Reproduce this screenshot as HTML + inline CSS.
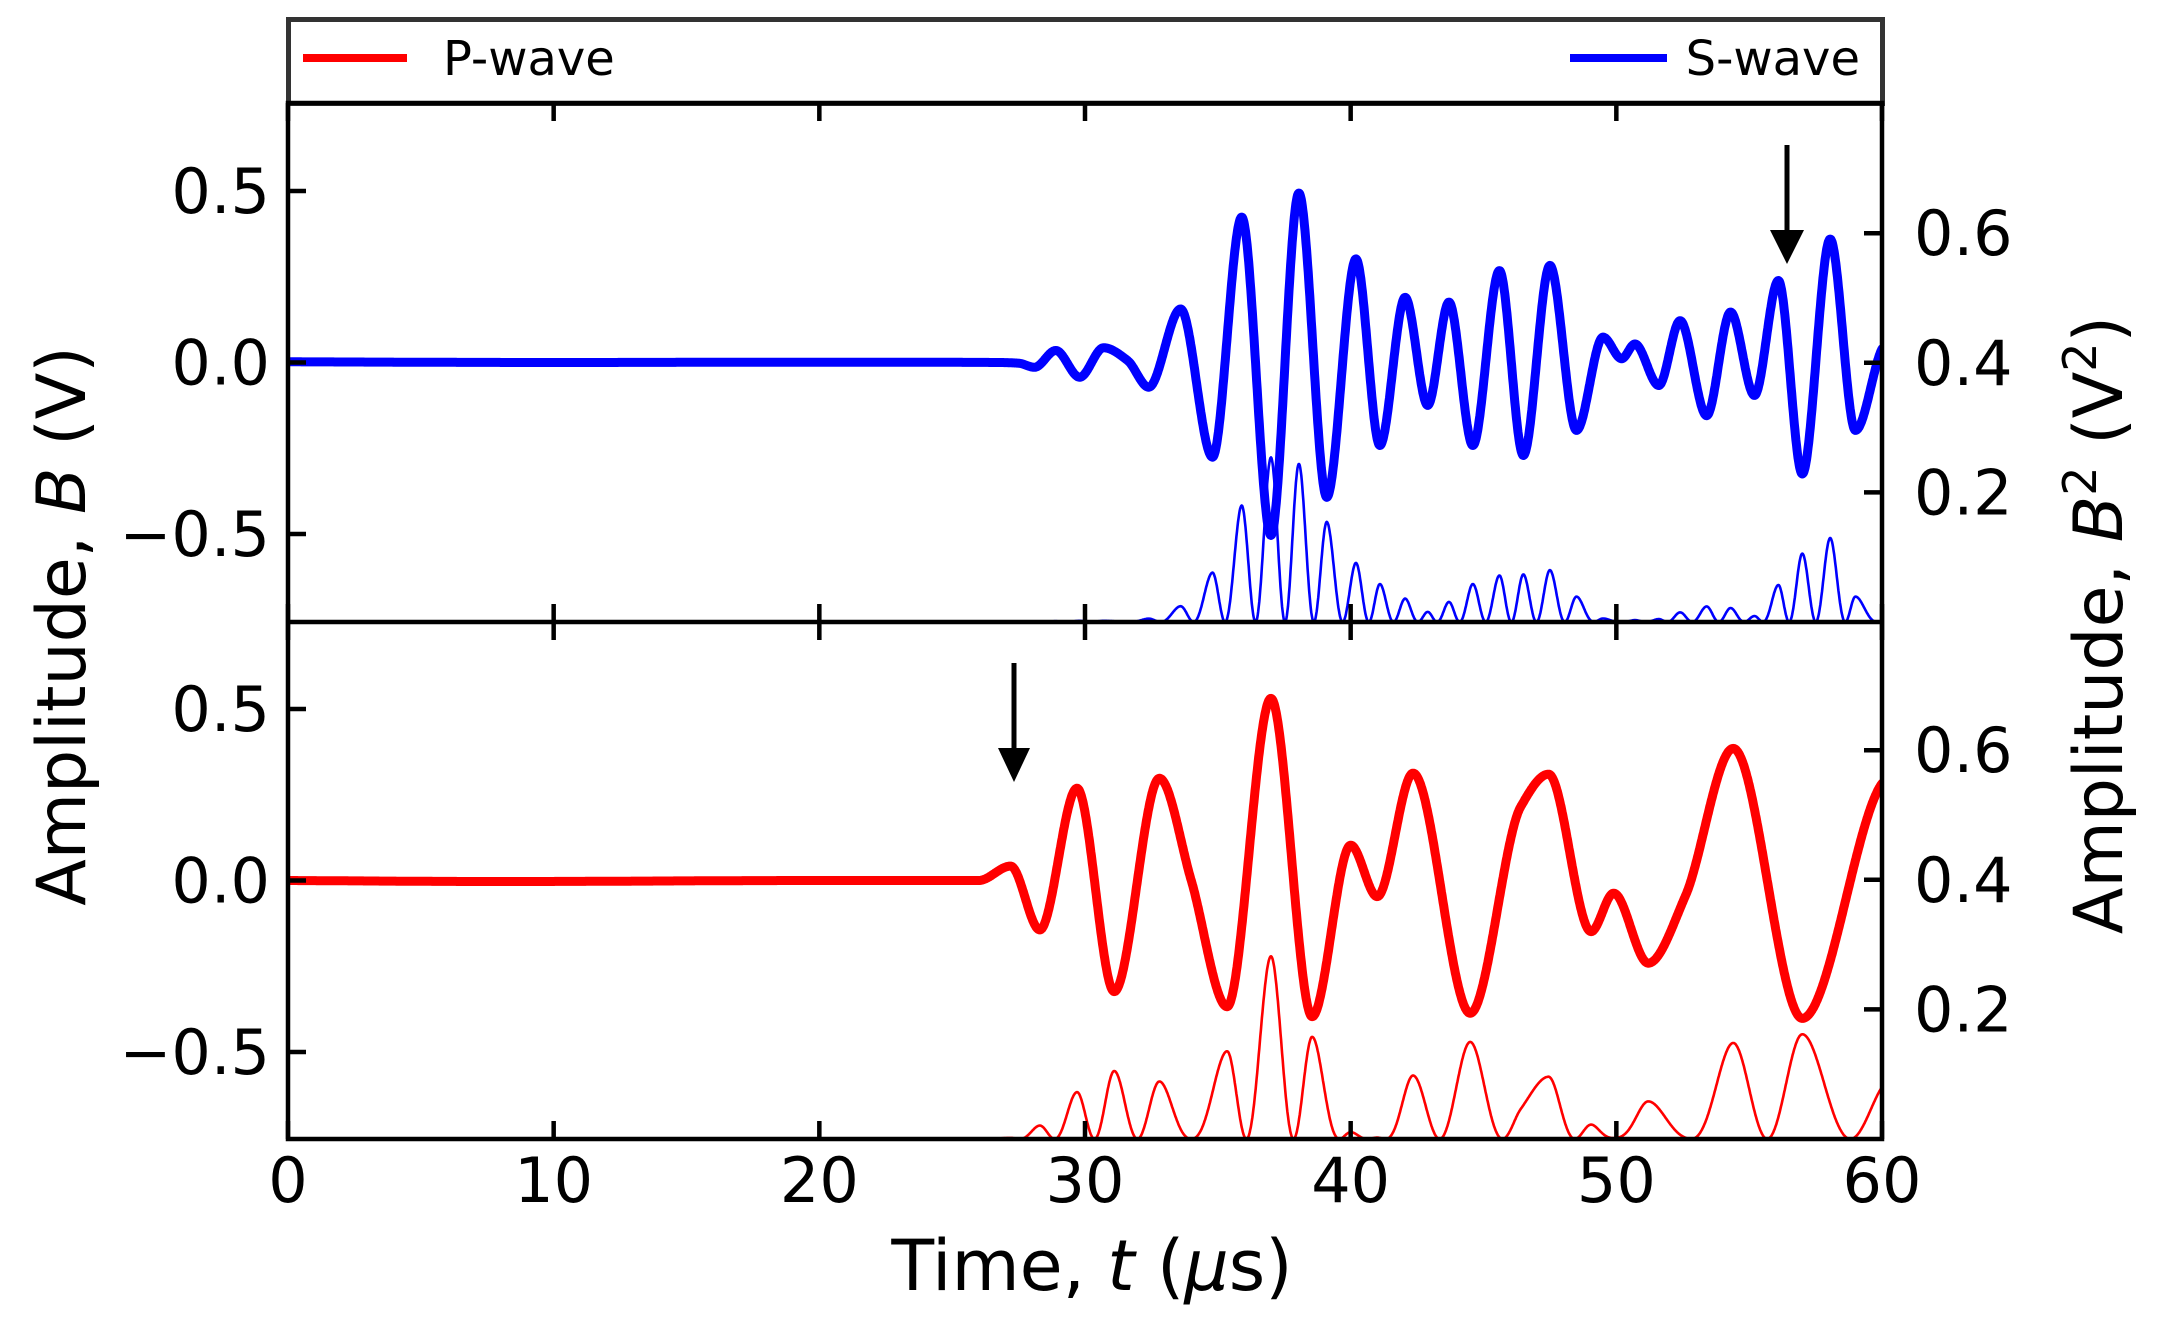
<!DOCTYPE html>
<html><head><meta charset="utf-8"><style>
html,body{margin:0;padding:0;background:#fff;}
svg{display:block;font-family:"DejaVu Sans","Liberation Sans",sans-serif;}
</style></head><body>
<svg id="s" width="2164" height="1328" viewBox="0 0 2164 1328" xmlns="http://www.w3.org/2000/svg">
<defs>
<clipPath id="c1"><rect x="288" y="103" width="1594" height="519"/></clipPath>
<clipPath id="c2"><rect x="288" y="622" width="1594" height="517"/></clipPath>
</defs>
<rect x="0" y="0" width="2164" height="1328" fill="#fff"/>
<!-- legend -->
<rect x="288.5" y="19.5" width="1594" height="84" fill="#fff" stroke="#333" stroke-width="5"/>
<line x1="303" y1="58" x2="407" y2="58" stroke="#f00" stroke-width="8"/>
<text x="443" y="75" font-size="48">P-wave</text>
<line x1="1570" y1="58" x2="1667" y2="58" stroke="#00f" stroke-width="8"/>
<text x="1860" y="75" font-size="48" text-anchor="end">S-wave</text>
<g id="curves"></g>
<g id="axes" stroke="#000" stroke-width="4.5" fill="none"></g>
<g id="lbl" font-size="62" fill="#000"></g>
<!-- arrows -->
<line x1="1787" y1="145" x2="1787" y2="235" stroke="#000" stroke-width="5"/>
<polygon points="1770,230 1804,230 1787,264" fill="#000"/>
<line x1="1014" y1="663" x2="1014" y2="752" stroke="#000" stroke-width="5"/>
<polygon points="998,748 1030,748 1014,782" fill="#000"/>
<text x="1092" y="1290" font-size="70" text-anchor="middle">Time, <tspan font-style="italic">t</tspan> (<tspan font-style="italic">μ</tspan>s)</text>
<text transform="translate(85,626) rotate(-90)" font-size="68" text-anchor="middle">Amplitude, <tspan font-style="italic">B</tspan> (V)</text>
<text transform="translate(2122,625) rotate(-90)" font-size="68" text-anchor="middle">Amplitude, <tspan font-style="italic">B</tspan><tspan font-size="46" dy="-26">2</tspan><tspan dy="26"> (V</tspan><tspan font-size="46" dy="-26">2</tspan><tspan dy="26">)</tspan></text>
</svg>
<script>
const X0=288,X1=1882,SX=(X1-X0)/60,K=343,KR=648;
const NS="http://www.w3.org/2000/svg";
function el(p,t,a,txt){const e=document.createElementNS(NS,t);for(const k in a)e.setAttribute(k,a[k]);if(txt!==undefined)e.textContent=txt;p.appendChild(e);return e;}
function pchip(xs,ys){
 const n=xs.length,h=[],d=[],m=new Array(n).fill(0);
 for(let i=0;i<n-1;i++){h[i]=xs[i+1]-xs[i];d[i]=(ys[i+1]-ys[i])/h[i];}
 m[0]=d[0];m[n-1]=d[n-2];
 for(let i=1;i<n-1;i++){
  if(d[i-1]*d[i]<=0)m[i]=0;else{const w1=2*h[i]+h[i-1],w2=h[i]+2*h[i-1];m[i]=(w1+w2)/(w1/d[i-1]+w2/d[i]);}
 }
 return function(x){
  let i=0;while(i<n-2&&x>xs[i+1])i++;
  const t=(x-xs[i])/h[i],t2=t*t,t3=t2*t;
  return (2*t3-3*t2+1)*ys[i]+(t3-2*t2+t)*h[i]*m[i]+(-2*t3+3*t2)*ys[i+1]+(t3-t2)*h[i]*m[i+1];
 };
}
const S=[[0,0.002],[10,0.0],[20,0.001],[26.8,0.0],[27.5,-0.002],[28.1,-0.014],[28.9,0.035],[29.8,-0.043],[30.7,0.043],[31.6,0.006],[32.4,-0.072],[33.6,0.156],[34.8,-0.276],[35.9,0.424],[37.0,-0.504],[38.05,0.494],[39.1,-0.393],[40.2,0.302],[41.1,-0.242],[42.05,0.19],[42.9,-0.125],[43.7,0.176],[44.6,-0.242],[45.6,0.268],[46.5,-0.271],[47.5,0.283],[48.5,-0.198],[49.5,0.074],[50.2,0.011],[50.7,0.054],[51.6,-0.067],[52.4,0.122],[53.4,-0.155],[54.3,0.147],[55.2,-0.096],[56.1,0.239],[57.0,-0.325],[58.05,0.36],[59.0,-0.198],[60.0,0.04],[60.5,0.1]];
const P=[[0,0.0],[8,-0.003],[20,0.0],[26.0,0.0],[27.2,0.042],[28.3,-0.144],[29.7,0.269],[31.1,-0.324],[32.8,0.298],[34.0,0.0],[35.35,-0.368],[37.0,0.531],[38.55,-0.397],[40.0,0.103],[41.0,-0.047],[42.35,0.313],[44.5,-0.387],[46.4,0.215],[47.45,0.31],[49.05,-0.149],[49.9,-0.037],[51.2,-0.241],[52.6,-0.045],[54.4,0.385],[57.0,-0.402],[60.0,0.283],[60.6,0.33]];
const cg=document.getElementById('curves');
function draw(data,color,zero,bot,clip){
 const f=pchip(data.map(p=>p[0]),data.map(p=>p[1]));
 let a="",b="";
 for(let t=0;t<=60.001;t+=0.02){
  const v=f(t),x=(X0+t*SX).toFixed(1);
  a+=(a?"L":"M")+x+","+(zero-v*K).toFixed(1);
  b+=(b?"L":"M")+x+","+(bot-v*v*KR).toFixed(1);
 }
 const g=el(cg,'g',{'clip-path':'url(#'+clip+')'});
 el(g,'path',{d:b,stroke:color,'stroke-width':2.6,fill:'none','stroke-linejoin':'round'});
 el(g,'path',{d:a,stroke:color,'stroke-width':9,fill:'none','stroke-linejoin':'round','stroke-linecap':'round'});
}
draw(S,'#00f',362.5,622,'c1');
draw(P,'#f00',880.5,1139,'c2');
const ax=document.getElementById('axes'),lb=document.getElementById('lbl');
el(ax,'rect',{x:288,y:103,width:1594,height:1036});
el(ax,'line',{x1:288,y1:622,x2:1882,y2:622});
const TL=18;
for(let i=0;i<=6;i++){
 const x=X0+i*10*SX;
 [[103,1],[622,-1],[622,1],[1139,-1]].forEach(([y,s])=>el(ax,'line',{x1:x,y1:y,x2:x,y2:y+s*TL}));
 el(lb,'text',{x:x,y:1202,'text-anchor':'middle'},String(i*10));
}
[[362.5,622],[880.5,1139]].forEach(([z,bot])=>{
 [-0.5,0,0.5].forEach(v=>{const y=z-v*K;el(ax,'line',{x1:288,y1:y,x2:288+TL,y2:y});
  el(lb,'text',{x:270,y:y+22,'text-anchor':'end'},(v<0?'\u22120.5':v==0?'0.0':'0.5'));});
 [0.2,0.4,0.6].forEach(v=>{const y=bot-v*KR;el(ax,'line',{x1:1882,y1:y,x2:1882-TL,y2:y});
  el(lb,'text',{x:1914,y:y+22,'text-anchor':'start'},v.toFixed(1));});
});
</script>
</body></html>
